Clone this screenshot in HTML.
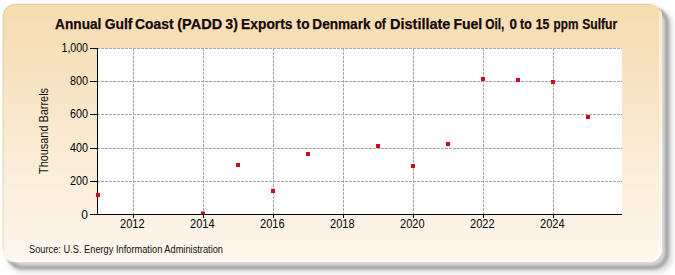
<!DOCTYPE html>
<html><head><meta charset="utf-8">
<style>
html,body{margin:0;padding:0;background:#fff;width:675px;height:275px;overflow:hidden}
svg{display:block}
text{font-family:"Liberation Sans",sans-serif}
</style></head><body>
<svg width="675" height="275" viewBox="0 0 675 275">
<defs>
<linearGradient id="bg" x1="0" y1="0" x2="0" y2="1">
<stop offset="0" stop-color="#F5DCB0"/>
<stop offset="0.5" stop-color="#F9E9D0"/>
<stop offset="1" stop-color="#FEF7EE"/>
</linearGradient>
<filter id="sh1" x="-5%" y="-5%" width="110%" height="110%"><feGaussianBlur stdDeviation="2.8"/></filter>
<filter id="pb" x="-2%" y="-2%" width="104%" height="104%"><feGaussianBlur stdDeviation="0.7"/></filter>
<filter id="sh2" x="-5%" y="-5%" width="110%" height="110%"><feGaussianBlur stdDeviation="1.3"/></filter>
</defs>
<rect x="0" y="0" width="675" height="275" fill="#fff"/>
<rect x="8" y="9" width="664" height="263" rx="15" ry="15" fill="#d6d6d6" filter="url(#sh1)"/>
<rect x="8" y="9" width="659" height="258.5" rx="15" ry="15" fill="none" stroke="#a8a8a8" stroke-width="4" filter="url(#sh2)"/>
<rect x="2.5" y="3.8" width="659.7" height="258.4" rx="13" ry="13" fill="url(#bg)" filter="url(#pb)"/>
<path d="M 3.2 250 L 3.2 17 A 13 13 0 0 1 16.2 4.3 L 650 4.3" fill="none" stroke="#d8c8a0" stroke-opacity="0.55" stroke-width="1.2"/>
<path d="M 660.5 12 L 660.5 249 A 11.5 11.5 0 0 1 649 260.5 L 10 260.5" fill="none" stroke="#fff" stroke-opacity="0.45" stroke-width="3"/>

<rect x="98" y="48" width="524" height="166" fill="#fff"/>
<g stroke="#a8a8a8" stroke-width="1" stroke-dasharray="3,1"><line x1="97" y1="181.5" x2="622" y2="181.5"/><line x1="97" y1="148.5" x2="622" y2="148.5"/><line x1="97" y1="114.5" x2="622" y2="114.5"/><line x1="97" y1="81.5" x2="622" y2="81.5"/><line x1="97" y1="48.5" x2="622" y2="48.5"/><line x1="133.5" y1="48" x2="133.5" y2="214"/><line x1="203.5" y1="48" x2="203.5" y2="214"/><line x1="273.5" y1="48" x2="273.5" y2="214"/><line x1="343.5" y1="48" x2="343.5" y2="214"/><line x1="413.5" y1="48" x2="413.5" y2="214"/><line x1="483.5" y1="48" x2="483.5" y2="214"/><line x1="553.5" y1="48" x2="553.5" y2="214"/></g>
<g stroke="#000" stroke-width="1"><line x1="97.5" y1="48" x2="97.5" y2="215"/><line x1="97" y1="214.5" x2="622" y2="214.5"/><line x1="90" y1="214.5" x2="97" y2="214.5"/><line x1="90" y1="181.5" x2="97" y2="181.5"/><line x1="90" y1="148.5" x2="97" y2="148.5"/><line x1="90" y1="114.5" x2="97" y2="114.5"/><line x1="90" y1="81.5" x2="97" y2="81.5"/><line x1="90" y1="48.5" x2="97" y2="48.5"/><line x1="133.5" y1="215" x2="133.5" y2="218"/><line x1="203.5" y1="215" x2="203.5" y2="218"/><line x1="273.5" y1="215" x2="273.5" y2="218"/><line x1="343.5" y1="215" x2="343.5" y2="218"/><line x1="413.5" y1="215" x2="413.5" y2="218"/><line x1="483.5" y1="215" x2="483.5" y2="218"/><line x1="553.5" y1="215" x2="553.5" y2="218"/></g>
<g fill="#CC0A1E"><rect x="96" y="193" width="4" height="4"/><rect x="201" y="211.5" width="4" height="3"/><rect x="236" y="163" width="4" height="4"/><rect x="271" y="189" width="4" height="4"/><rect x="306" y="152" width="4" height="4"/><rect x="376" y="144" width="4" height="4"/><rect x="411" y="164" width="4" height="4"/><rect x="446" y="142" width="4" height="4"/><rect x="481" y="77" width="4" height="4"/><rect x="516" y="78" width="4" height="4"/><rect x="551" y="80" width="4" height="4"/><rect x="586" y="115" width="4" height="4"/></g>
<g fill="#000"><text x="88" y="218.5" text-anchor="end" font-size="12">0</text><text x="88" y="184.5" text-anchor="end" font-size="12" textLength="18" lengthAdjust="spacingAndGlyphs">200</text><text x="88" y="151.5" text-anchor="end" font-size="12" textLength="18" lengthAdjust="spacingAndGlyphs">400</text><text x="88" y="117.5" text-anchor="end" font-size="12" textLength="18" lengthAdjust="spacingAndGlyphs">600</text><text x="88" y="84.5" text-anchor="end" font-size="12" textLength="18" lengthAdjust="spacingAndGlyphs">800</text><text x="88" y="51.5" text-anchor="end" font-size="12" textLength="26.5" lengthAdjust="spacingAndGlyphs">1,000</text><text x="132.3" y="228" text-anchor="middle" font-size="12" textLength="24.5" lengthAdjust="spacingAndGlyphs">2012</text><text x="202.3" y="228" text-anchor="middle" font-size="12" textLength="24.5" lengthAdjust="spacingAndGlyphs">2014</text><text x="272.3" y="228" text-anchor="middle" font-size="12" textLength="24.5" lengthAdjust="spacingAndGlyphs">2016</text><text x="342.3" y="228" text-anchor="middle" font-size="12" textLength="24.5" lengthAdjust="spacingAndGlyphs">2018</text><text x="412.3" y="228" text-anchor="middle" font-size="12" textLength="24.5" lengthAdjust="spacingAndGlyphs">2020</text><text x="482.3" y="228" text-anchor="middle" font-size="12" textLength="24.5" lengthAdjust="spacingAndGlyphs">2022</text><text x="552.3" y="228" text-anchor="middle" font-size="12" textLength="24.5" lengthAdjust="spacingAndGlyphs">2024</text></g>
<g font-size="14" font-weight="bold" fill="#160808" stroke="#160808" stroke-width="0.25"><text x="55.11" y="29" textLength="46.31" lengthAdjust="spacingAndGlyphs">Annual</text><text x="104.81" y="29" textLength="27.69" lengthAdjust="spacingAndGlyphs">Gulf</text><text x="135.11" y="29" textLength="38.39" lengthAdjust="spacingAndGlyphs">Coast</text><text x="177.28" y="29" textLength="44.84" lengthAdjust="spacingAndGlyphs">(PADD</text><text x="225.30" y="29" textLength="12.56" lengthAdjust="spacingAndGlyphs">3)</text><text x="241.11" y="29" textLength="51.30" lengthAdjust="spacingAndGlyphs">Exports</text><text x="296.60" y="29" textLength="12.89" lengthAdjust="spacingAndGlyphs">to</text><text x="312.33" y="29" textLength="58.19" lengthAdjust="spacingAndGlyphs">Denmark</text><text x="374.48" y="29" textLength="11.43" lengthAdjust="spacingAndGlyphs">of</text><text x="390.07" y="29" textLength="60.30" lengthAdjust="spacingAndGlyphs">Distillate</text><text x="453.40" y="29" textLength="28.78" lengthAdjust="spacingAndGlyphs">Fuel</text><text x="485.29" y="29" textLength="19.12" lengthAdjust="spacingAndGlyphs">Oil,</text><text x="509.43" y="29" textLength="7.43" lengthAdjust="spacingAndGlyphs">0</text><text x="520.12" y="29" textLength="11.62" lengthAdjust="spacingAndGlyphs">to</text><text x="535.81" y="29" textLength="13.61" lengthAdjust="spacingAndGlyphs">15</text><text x="553.55" y="29" textLength="24.77" lengthAdjust="spacingAndGlyphs">ppm</text><text x="582.15" y="29" textLength="35.06" lengthAdjust="spacingAndGlyphs">Sulfur</text></g>
<text transform="translate(47.5,131) rotate(-90)" text-anchor="middle" font-size="12" fill="#111" textLength="86" lengthAdjust="spacingAndGlyphs">Thousand Barrels</text>
<text x="29" y="253" font-size="10" fill="#111" textLength="194" lengthAdjust="spacingAndGlyphs">Source: U.S. Energy Information Administration</text>
</svg></body></html>
